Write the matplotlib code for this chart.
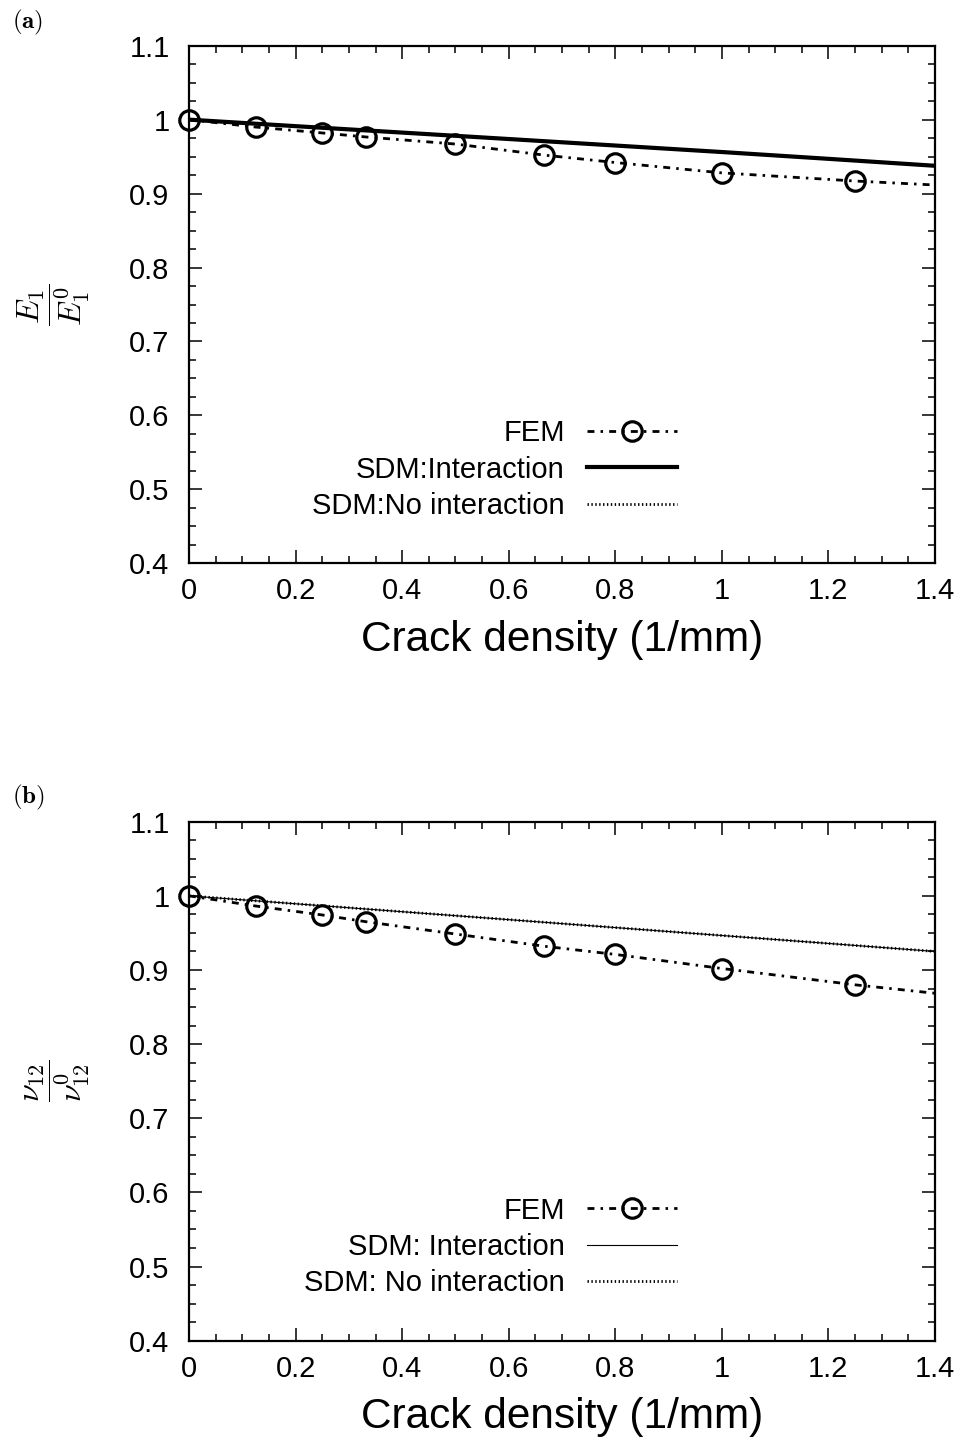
import matplotlib
matplotlib.use("Agg")
import matplotlib.pyplot as plt
from matplotlib.lines import Line2D
from matplotlib.ticker import MultipleLocator, FuncFormatter

plt.rcParams["font.family"] = ["Liberation Sans", "DejaVu Sans"]
plt.rcParams["mathtext.fontset"] = "cm"

# Crack density values where FEM results are available
crack_density = [0, 0.125, 0.25, 0.333, 0.5, 0.667, 0.8, 1.0, 1.25]
# FEM curve runs on to the edge of the range
fem_curve_x = crack_density + [1.4]

# (a) normalised longitudinal modulus
fem_E1 = [1.0, 0.990, 0.982, 0.9765, 0.967, 0.952, 0.942, 0.928, 0.917]
fem_E1_curve = fem_E1 + [0.9116]

sdm_x = [0, 0.2, 0.4, 0.6, 0.8, 1.0, 1.2, 1.4]
sdm_E1_inter = [1.0, 0.9912, 0.9825, 0.9738, 0.9650, 0.9562, 0.9470, 0.9376]
sdm_E1_nointer = [1.0, 0.9912, 0.9825, 0.9738, 0.9650, 0.9562, 0.9470, 0.9376]

# (b) normalised Poisson's ratio
fem_nu12 = [1.0, 0.9863, 0.9742, 0.965, 0.9485, 0.932, 0.921, 0.902, 0.880]
fem_nu12_curve = fem_nu12 + [0.8686]
sdm_nu12_inter = [1.0, 0.9893, 0.9786, 0.9679, 0.9572, 0.9465, 0.9358, 0.925]
sdm_nu12_nointer = [1.0, 0.9893, 0.9786, 0.9679, 0.9572, 0.9465, 0.9358, 0.925]

x_ticks = [0, 0.2, 0.4, 0.6, 0.8, 1.0, 1.2, 1.4]
y_ticks = [0.4, 0.5, 0.6, 0.7, 0.8, 0.9, 1.0, 1.1]

fig = plt.figure(figsize=(9.64, 14.37), dpi=100)

W, H = 964.0, 1437.0
left, right = 189.0, 935.0
panels = [
    dict(top=45.7, bottom=563.3, tag="(a)", tag_y=8,
         ylabel=r"$\dfrac{E_1}{E_1^0}$",
         fem=fem_E1, fem_curve=fem_E1_curve,
         inter=sdm_E1_inter, nointer=sdm_E1_nointer,
         inter_lw=3.0,
         labels=["FEM", "SDM:Interaction", "SDM:No interaction"]),
    dict(top=821.7, bottom=1340.7, tag="(b)", tag_y=783,
         ylabel=r"$\dfrac{\nu_{12}}{\nu_{12}^0}$",
         fem=fem_nu12, fem_curve=fem_nu12_curve,
         inter=sdm_nu12_inter, nointer=sdm_nu12_nointer,
         inter_lw=0.8,
         labels=["FEM", "SDM: Interaction", "SDM: No interaction"]),
]

fem_dash = (0, (2.5, 2.2, 0.9, 2.2))
dot_dash = (0, (0.5, 0.9))

fmt = FuncFormatter(lambda v, p: "%g" % round(v, 3))

for P in panels:
    ax = fig.add_axes([left / W, 1 - P["bottom"] / H,
                       (right - left) / W, (P["bottom"] - P["top"]) / H])
    ax.set_xlim(0, 1.4)
    ax.set_ylim(0.4, 1.1)

    ax.plot(sdm_x, P["nointer"], color="black", lw=2.0, linestyle=dot_dash,
            zorder=2)
    ax.plot(sdm_x, P["inter"], color="black", lw=P["inter_lw"],
            solid_capstyle="butt", zorder=3)
    ax.plot(fem_curve_x, P["fem_curve"], color="black", lw=2.0,
            linestyle=fem_dash, zorder=4)
    ax.plot(crack_density, P["fem"], linestyle="none", marker="o",
            markersize=14, markerfacecolor="none", markeredgecolor="black",
            markeredgewidth=2.3, zorder=5, clip_on=False)

    handles = [
        Line2D([], [], color="black", lw=2.0, linestyle=fem_dash, marker="o",
               markersize=14, markerfacecolor="none", markeredgecolor="black",
               markeredgewidth=2.3),
        Line2D([], [], color="black", lw=P["inter_lw"]),
        Line2D([], [], color="black", lw=2.0, linestyle=dot_dash),
    ]
    ax.legend(handles, P["labels"], loc="center right",
              bbox_to_anchor=((677 - left) / (right - left), 0.181),
              frameon=False, markerfirst=False, fontsize=21,
              handlelength=3.1, handletextpad=0.75, labelspacing=0.28,
              borderpad=0, borderaxespad=0, numpoints=1)

    ax.set_xticks(x_ticks)
    ax.set_yticks(y_ticks)
    ax.xaxis.set_minor_locator(MultipleLocator(0.05))
    ax.yaxis.set_minor_locator(MultipleLocator(0.025))
    ax.xaxis.set_major_formatter(fmt)
    ax.yaxis.set_major_formatter(fmt)
    ax.tick_params(which="both", direction="in", top=True, right=True,
                   width=1.1, labelsize=21)
    ax.tick_params(which="major", length=9.5)
    ax.tick_params(which="minor", length=5)
    ax.tick_params(axis="x", which="major", pad=10)
    ax.tick_params(axis="y", which="major", pad=14)
    for s in ax.spines.values():
        s.set_linewidth(1.6)

    ax.set_xlabel("Crack density (1/mm)", fontsize=30.5)
    ax.xaxis.set_label_coords(0.5, -0.109)
    ax.set_ylabel(P["ylabel"], fontsize=23)
    ax.yaxis.set_label_coords(-0.13, 0.5)

    fig.text(12 / W, 1 - P["tag_y"] / H, r"$\mathbf{" + P["tag"] + "}$",
             fontsize=18, ha="left", va="top")

fig.savefig("out.png", dpi=100)
